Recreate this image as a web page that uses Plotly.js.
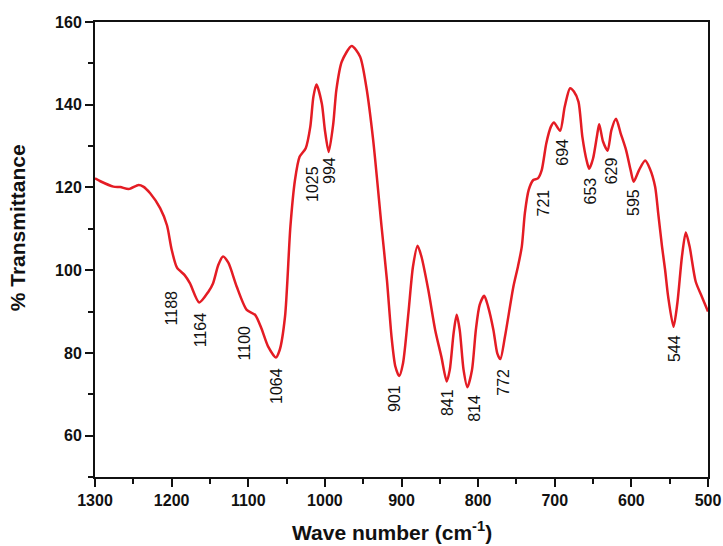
<!DOCTYPE html>
<html>
<head>
<meta charset="utf-8">
<script src="https://cdn.plot.ly/plotly-3.0.1.min.js"></script>
<style>html,body{margin:0;padding:0;background:#fff;}#chart{width:723px;height:546px;}</style>
</head>
<body>
<div id="chart"></div>
<script>
const wavenumber = [1300,1293,1276,1267,1256,1243,1237,1228,1215,1206,1200,1193,1183,1176,1164,1152,1146,1139,1133,1126,1115,1102,1091,1083,1074,1064,1059,1052,1045,1039,1033,1025,1019,1015,1011,1004,1000,995,989,985,978,965,954,946,937,926,919,913,908,903,898,891,885,879,874,865,856,848,841,837,832,828,824,819,814,808,803,798,792,787,780,775,771,765,754,748,743,739,734,728,722,717,711,705,701,693,687,680,675,669,664,658,655,650,645,642,637,631,626,620,614,607,601,597,590,582,576,569,565,560,556,552,545,540,534,529,524,516,508,500];
const transmittance = [122.2,121.5,120.2,120.1,119.6,120.6,120.2,118.6,115.0,110.8,105.0,100.6,98.8,96.8,92.2,94.8,96.8,101.3,103.3,101.8,96.0,90.4,89.2,86.0,81.5,78.9,80.7,88.8,110.5,121.8,127.4,129.5,134.7,141.9,144.9,140.3,133.9,128.6,135.5,143.6,150.4,154.2,151.6,144.4,131.5,110.5,97.6,83.9,76.7,74.4,77.5,89.6,100.9,105.9,103.3,95.2,85.5,79.1,73.1,75.9,84.8,89.2,85.5,75.9,71.7,75.9,85.5,91.6,93.8,91.2,85.5,79.9,78.5,83.9,96.0,100.9,105.7,113.8,119.4,121.8,122.2,124.2,130.7,134.7,135.7,133.7,139.5,144.0,143.2,140.7,132.3,126.2,124.5,127.0,132.3,135.3,131.1,128.9,133.9,136.6,133.1,129.1,124.2,121.4,124.2,126.5,124.6,120.2,113.8,105.7,100.1,93.6,86.3,92.0,103.3,109.1,105.7,97.2,93.6,90.0];

const peakLabels = ["1188","1164","1100","1064","1025","994","901","841","814","772","721","694","653","629","595","544"];
const labelX = [1200,1163,1105.5,1063,1017,994,909,840,804,767,715,690,653,626,597,544];
const labelY = [90.9,85.7,82.3,71.9,120.8,124.1,69.0,68.0,66.5,72.9,116.2,128.5,119.2,124.0,116.4,81.0];

const xTicks = [1300,1200,1100,1000,900,800,700,600,500];
const yTicks = [60,80,100,120,140,160];
const xTitle = 'Wave number (cm<sup>-1</sup>)';
const yTitle = '% Transmittance';

const FONT = "Arial, 'Liberation Sans', sans-serif";

const annotations = peakLabels.map((t, i) => ({
  x: labelX[i], y: labelY[i], xref: 'x', yref: 'y',
  text: t, showarrow: false, textangle: -90,
  xanchor: 'center', yanchor: 'middle',
  font: {family: FONT, size: 16, color: '#111'}
}));
annotations.push({
  x: 0.484, y: -0.118, xref: 'paper', yref: 'paper', text: xTitle,
  showarrow: false, xanchor: 'center', yanchor: 'middle',
  font: {family: FONT, size: 21, color: '#111', weight: 'bold'}
});
annotations.push({
  x: -0.127, y: 0.547, xref: 'paper', yref: 'paper', text: yTitle,
  showarrow: false, textangle: -90, xanchor: 'center', yanchor: 'middle',
  font: {family: FONT, size: 21, color: '#111', weight: 'bold'}
});

const trace = {
  x: wavenumber, y: transmittance, type: 'scatter', mode: 'lines',
  line: {color: 'rgb(228,28,36)', width: 2.5, shape: 'spline', smoothing: 0.7},
  hoverinfo: 'skip'
};

const layout = {
  width: 723, height: 546,
  margin: {l: 95, r: 15, t: 22, b: 69},
  paper_bgcolor: '#fff', plot_bgcolor: '#fff',
  showlegend: false,
  font: {family: FONT, color: '#111'},
  xaxis: {
    range: [1300, 500], autorange: false,
    tickvals: xTicks, ticktext: xTicks.map(String),
    ticks: 'outside', ticklen: 8, tickwidth: 2, tickcolor: '#111',
    minor: {dtick: 50, tick0: 0, ticks: 'outside', ticklen: 5, tickwidth: 2, tickcolor: '#111'},
    showline: true, linecolor: '#111', linewidth: 2, mirror: true,
    showgrid: false, zeroline: false,
    tickfont: {family: FONT, size: 16, color: '#111', weight: 'bold'}
  },
  yaxis: {
    range: [50, 160], autorange: false,
    tickvals: yTicks, ticktext: yTicks.map(String),
    ticks: 'outside', ticklen: 8, tickwidth: 2, tickcolor: '#111',
    minor: {dtick: 10, tick0: 0, ticks: 'outside', ticklen: 5, tickwidth: 2, tickcolor: '#111'},
    showline: true, linecolor: '#111', linewidth: 2, mirror: true,
    showgrid: false, zeroline: false,
    tickfont: {family: FONT, size: 16, color: '#111', weight: 'bold'}
  },
  annotations: annotations
};

Plotly.newPlot('chart', [trace], layout, {displayModeBar: false, staticPlot: true});
</script>
</body>
</html>
